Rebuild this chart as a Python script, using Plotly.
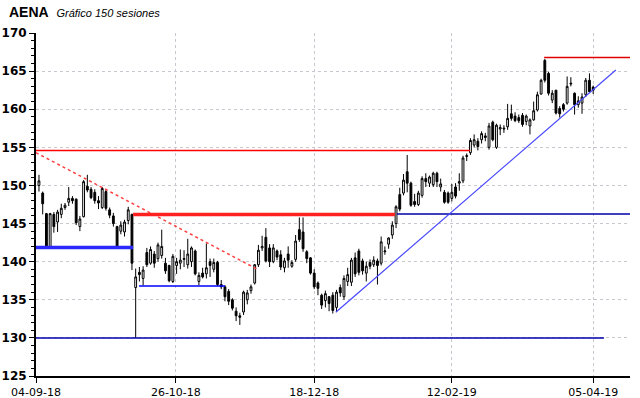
import plotly.graph_objects as go

# ---- data (session index 0..149, 04-09-18 .. 05-04-19) ----
opens = [150.0,149.0,146.3,141.9,146.2,145.2,146.2,147.1,147.8,148.3,
         148.2,144.6,145.9,149.9,149.5,149.1,148.0,147.1,149.2,146.8,
         146.0,144.6,144.0,143.9,145.4,146.2,136.6,138.6,137.8,141.2,
         139.8,141.0,140.4,140.8,139.8,139.5,137.4,139.5,139.8,140.3,
         139.6,140.0,141.4,137.4,138.5,138.4,140.0,139.0,139.9,137.0,
         136.7,136.1,135.0,133.5,132.9,133.4,135.0,136.2,137.2,139.6,
         141.8,143.2,141.8,140.0,141.4,140.9,139.2,141.0,139.4,140.3,
         144.2,143.9,141.3,140.5,138.5,137.2,135.6,134.9,135.4,135.6,
         134.0,136.6,135.4,137.4,137.3,140.5,141.4,140.1,138.5,139.9,
         139.6,140.1,139.8,141.3,142.3,143.5,145.0,148.8,149.0,151.8,
         150.3,147.9,147.5,148.7,150.9,150.3,150.1,151.6,149.8,149.1,
         149.0,148.3,149.8,150.3,150.6,153.8,154.3,155.3,155.8,156.0,
         156.5,155.0,158.3,155.0,157.4,157.4,157.7,159.4,159.1,158.9,
         159.2,158.4,157.8,158.6,159.9,162.0,166.4,164.7,161.2,162.5,
         160.1,160.6,160.8,163.3,162.1,160.6,160.8,161.9,163.8,162.9]
highs = [151.4,149.2,146.4,146.4,146.5,146.8,147.6,147.7,149.8,148.6,
         148.3,146.0,150.7,151.4,149.8,149.5,148.6,149.8,149.4,147.1,
         146.4,144.7,145.3,145.5,147.2,146.3,139.1,139.3,139.4,141.8,
         142.0,141.4,142.5,144.2,140.5,139.6,141.0,140.5,141.6,141.5,
         143.0,142.0,141.6,138.6,139.2,142.4,140.4,140.4,140.1,137.6,
         136.9,136.4,135.2,134.0,133.3,136.2,136.3,137.0,139.7,142.2,
         143.4,144.4,142.3,142.3,141.6,141.5,140.5,142.0,140.2,143.5,
         145.8,145.8,141.5,140.6,139.0,137.4,135.8,136.2,135.5,136.0,
         136.3,137.0,138.2,139.2,140.5,141.2,141.7,140.4,140.0,140.3,
         140.7,140.4,143.3,142.0,143.2,145.3,147.4,149.7,151.5,154.0,
         150.5,148.9,149.3,151.2,151.6,151.3,151.8,151.8,150.9,149.4,
         149.2,150.2,150.3,151.6,153.9,154.2,156.2,156.7,156.2,157.1,
         156.9,158.2,158.5,158.1,158.0,157.9,160.7,160.6,159.6,159.3,
         159.5,159.3,158.8,161.0,162.3,164.0,166.6,164.9,162.5,162.5,
         160.4,160.8,164.3,164.2,162.2,161.7,162.1,164.1,164.7,163.1]
lows = [149.2,146.2,141.7,141.7,143.8,143.9,145.7,146.8,147.3,147.6,
        144.8,144.0,145.8,149.1,148.2,147.6,146.9,146.9,146.7,145.7,
        144.6,141.7,143.6,143.3,144.9,138.9,130.0,137.4,136.9,139.3,
        139.6,139.2,140.0,140.4,138.4,137.3,137.2,138.4,139.0,139.3,
        139.1,139.3,138.2,136.9,137.8,137.8,138.0,138.6,136.8,136.4,
        134.8,134.3,133.6,132.2,131.7,133.0,134.4,135.8,137.0,139.3,
        141.4,139.9,139.3,139.8,140.2,138.9,138.6,139.2,139.2,140.0,
        142.6,141.3,139.8,138.3,136.4,135.6,133.8,134.0,133.5,133.2,
        133.4,135.4,135.0,136.8,136.8,138.0,138.2,138.3,137.4,139.0,
        139.3,137.0,139.5,140.9,141.7,143.0,144.4,146.6,148.7,149.1,
        147.2,147.2,147.3,148.4,149.8,149.8,149.8,149.8,149.2,147.6,
        147.6,147.9,148.3,149.3,150.3,153.2,154.0,155.0,154.6,155.5,
        155.8,154.7,155.8,154.8,156.6,156.9,157.3,158.5,158.3,158.2,
        157.7,157.9,156.7,158.5,159.7,161.9,163.5,161.8,160.8,159.3,
        158.9,159.7,160.6,163.0,159.3,160.2,159.4,161.6,162.2,162.0]
closes = [150.6,147.6,141.9,146.3,144.6,146.5,147.0,147.4,148.3,148.0,
          145.1,145.6,150.5,149.4,148.4,148.0,147.7,149.6,147.0,146.1,
          145.0,141.9,144.8,145.2,146.8,139.8,138.0,138.3,138.9,139.6,
          141.6,139.8,142.2,142.0,138.8,137.5,140.7,140.0,140.2,140.4,
          141.0,141.8,138.4,138.2,138.0,139.2,139.5,139.9,137.0,136.7,
          135.4,134.8,133.9,132.9,132.7,136.0,135.9,136.7,139.6,141.5,
          142.0,140.1,140.0,141.8,140.6,139.3,140.1,140.2,139.9,142.7,
          142.9,141.7,140.4,138.5,136.7,136.5,134.3,135.8,134.5,133.6,
          136.0,135.9,137.8,138.3,140.2,138.4,138.6,138.8,139.4,139.4,
          140.2,139.5,142.6,141.4,143.1,144.8,147.2,146.9,150.7,150.3,
          147.4,147.5,149.0,150.9,150.5,151.1,151.6,150.5,150.2,147.8,
          147.8,149.1,148.6,150.5,153.6,153.9,155.9,156.0,155.1,156.8,
          156.3,157.8,156.0,157.9,157.6,157.5,158.8,158.8,158.5,158.5,
          158.0,159.1,158.6,159.8,161.9,163.8,163.8,162.1,162.1,159.5,
          159.4,160.0,163.0,163.4,160.6,161.1,161.6,163.8,162.3,162.5]
sessions = list(range(len(closes)))

tick_labels = ["04-09-18", "26-10-18", "18-12-18", "12-02-19", "05-04-19"]
tick_sessions = [-0.8, 36.8, 74.0, 111.0, 149.0]

# drawn studies: (session_start, price_start, session_end, price_end)
study_sessions_start = [-0.8, -0.8, 25.3, 96.2, -0.8, 26.9, -0.8, 135.8, 79.8]
study_prices_start   = [154.6, 154.3, 146.2, 146.25, 141.85, 136.8, 130.0, 166.8, 133.36]
study_sessions_end   = [115.9, 59.1, 95.7, 158.9, 25.3, 50.0, 151.9, 158.9, 155.1]
study_prices_end     = [154.6, 138.9, 146.2, 146.25, 141.85, 136.8, 130.0, 166.8, 165.15]
study_styles = [
    dict(color="#ff0000", width=1.5),
    dict(color="#ff4040", width=1.5, dash="dot"),
    dict(color="#ff2020", width=3.5),
    dict(color="#0000a8", width=1.5),
    dict(color="#2a2aff", width=3.5),
    dict(color="#0000ff", width=1.5),
    dict(color="#0000b0", width=1.5),
    dict(color="#e00000", width=1.5),
    dict(color="#4848ff", width=1.2),
]

fig = go.Figure()
fig.add_trace(go.Candlestick(
    x=sessions, open=opens, high=highs, low=lows, close=closes,
    increasing=dict(line=dict(color="#000000", width=1), fillcolor="#ffffff"),
    decreasing=dict(line=dict(color="#000000", width=1), fillcolor="#000000"),
    whiskerwidth=0, showlegend=False, hoverinfo="skip",
))

for xs, ys, xe, ye, st in zip(study_sessions_start, study_prices_start,
                              study_sessions_end, study_prices_end, study_styles):
    fig.add_shape(type="line", xref="x", yref="y", x0=xs, y0=ys, x1=xe, y1=ye,
                  line=st, layer="above")

fig.add_annotation(
    xref="paper", yref="paper", x=-0.048, y=1.062, xanchor="left", yanchor="middle",
    showarrow=False,
    text="<b>AENA</b>&nbsp;&nbsp;<i><span style='font-size:11px'>Gráfico 150 sesiones</span></i>",
    font=dict(family="Liberation Sans, Arial, sans-serif", size=14, color="#000000"),
)

grid = dict(showgrid=True, gridcolor="#c8c8d0", griddash="dot", gridwidth=1)

fig.update_layout(
    width=640, height=398,
    margin=dict(l=36, r=10, t=33, b=22, autoexpand=False),
    paper_bgcolor="#ffffff", plot_bgcolor="#ffffff",
    xaxis=dict(
        range=[-0.8, 158.9], rangeslider=dict(visible=False), automargin=False,
        tickmode="array", tickvals=tick_sessions, ticktext=tick_labels,
        ticks="outside", ticklen=5, tickcolor="#000000", tickwidth=1,
        showline=True, linecolor="#000000", linewidth=2,
        tickfont=dict(family="DejaVu Sans, sans-serif", size=11, color="#000000"),
        zeroline=False, **grid,
    ),
    yaxis=dict(
        range=[125, 170], tickmode="linear", tick0=125, dtick=5, automargin=False,
        ticks="outside", ticklen=5, tickcolor="#000000", tickwidth=1,
        showline=True, linecolor="#000000", linewidth=2,
        tickfont=dict(family="DejaVu Sans, sans-serif", size=12, color="#000000", weight="bold"),
        minor=dict(dtick=1, ticks="outside", ticklen=3, tickcolor="#000000", showgrid=False),
        zeroline=False, **grid,
    ),
)

fig.write_html(
    "out.html",
    config={"displayModeBar": False, "staticPlot": True},
    post_script="document.documentElement.style.margin='0';document.body.style.margin='0';document.body.style.overflow='hidden';",
)
